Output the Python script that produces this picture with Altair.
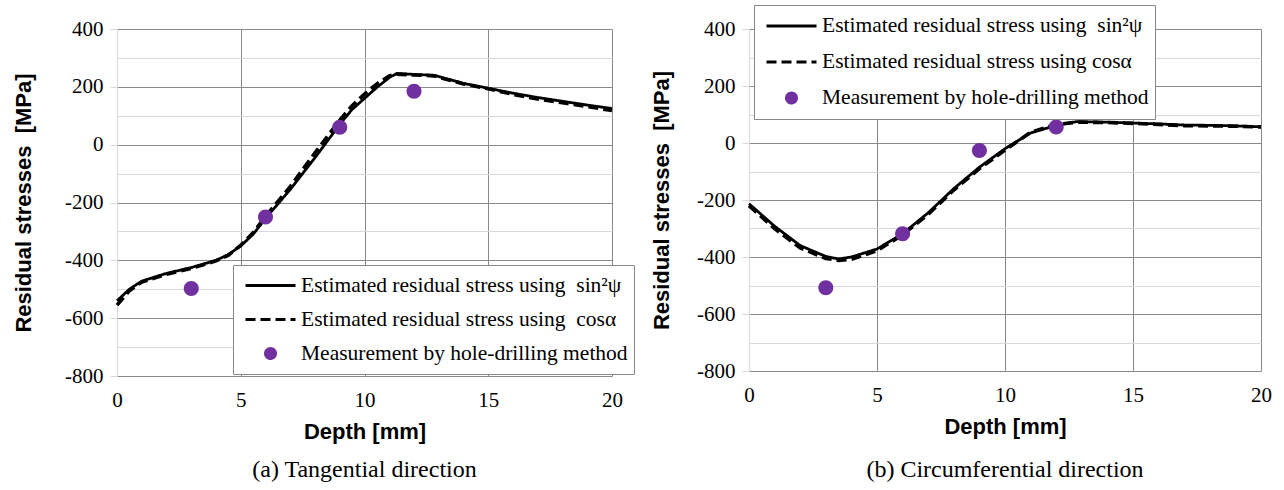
import altair as alt
import pandas as pd

# ---------------- data ----------------
# (a) Tangential direction
depth_a = [0, 0.5, 1, 2, 3, 4, 4.5, 5, 5.5, 6, 7, 8, 9, 9.5, 10, 10.5, 11, 11.3, 12, 12.8, 14, 15, 16, 17, 18, 19, 20]
sin_a = [-540, -500, -472, -445, -425, -400, -380, -350, -310, -255, -155, -45, 70, 122, 160, 198, 232, 246, 243, 240, 212, 195, 178, 163, 150, 137, 125]
cos_a = [-555, -505, -475, -448, -428, -402, -382, -348, -305, -248, -145, -28, 85, 135, 175, 210, 238, 244, 241, 238, 210, 193, 174, 158, 145, 132, 118]

# (b) Circumferential direction
depth_b = [0, 1, 2, 3, 3.5, 4, 5, 6, 7, 8, 9, 10, 11, 12, 12.8, 14, 15, 16, 17, 18, 19, 20]
sin_b = [-213, -292, -360, -398, -407, -400, -372, -318, -245, -160, -85, -20, 35, 62, 75, 73, 70, 67, 63, 62, 60, 57]
cos_b = [-220, -300, -368, -405, -412, -408, -378, -322, -250, -165, -90, -25, 38, 65, 73, 72, 69, 65, 61, 60, 59, 56]

# hole-drilling measurements
meas_depth = [3, 6, 9, 12]
meas_a = [-497, -250, 60, 185]
meas_b = [-508, -318, -26, 56]

# ticks
x_ticks = [0, 5, 10, 15, 20]
y_ticks = list(range(-800, 401, 100))

labels_a = ["Estimated residual stress using\u2002sin\u00b2\u03c8",
            "Estimated residual stress using\u2002cos\u03b1",
            "Measurement by hole-drilling method"]
labels_b = ["Estimated residual stress using\u2002sin\u00b2\u03c8",
            "Estimated residual stress using cos\u03b1",
            "Measurement by hole-drilling method"]

# ---------------- styling ----------------
PURPLE = "#7030A0"
MAJOR = "#8a8a8a"
MINOR = "#d9d9d9"
SERIF = "Liberation Serif"
SANS = "Liberation Sans"
LINE_PATH = "M-1,0L1,0"
CIRCLE_PATH = "M0.2,0A0.2,0.2,0,1,1,-0.2,0A0.2,0.2,0,1,1,0.2,0Z"


def panel(depth, s_sin, s_cos, meas, labels, caption, w, h, lx, ly, clip, rowpad, ytpad, capoff):
    df_sin = pd.DataFrame({"depth": depth, "stress": s_sin, "series": labels[0]})
    df_cos = pd.DataFrame({"depth": depth, "stress": s_cos, "series": labels[1]})
    df_pts = pd.DataFrame({"depth": meas_depth, "stress": meas, "series": labels[2]})

    legend = alt.Legend(
        title=None, orient="none", legendX=lx, legendY=ly, direction="vertical",
        symbolSize=2500, symbolStrokeWidth=3, clipHeight=clip, rowPadding=rowpad,
        padding=6, symbolOffset=5, labelOffset=4,
        labelFont=SERIF, labelFontSize=21.5, labelColor="black", labelLimit=600,
        strokeColor="#888888", fillColor="white",
    )

    x = alt.X(
        "depth:Q",
        scale=alt.Scale(domain=[0, 20], nice=False),
        axis=alt.Axis(
            values=x_ticks, format="d", grid=True,
            gridColor={"condition": {"test": "datum.value === 0", "value": MINOR}, "value": MAJOR},
            domain=False, ticks=False, labelPadding=13, labelFlush=False,
            labelFont=SERIF, labelFontSize=21, labelColor="black",
            title="Depth [mm]", titleFont=SANS, titleFontWeight="bold",
            titleFontSize=22, titleColor="black", titlePadding=11,
        ),
    )
    y = alt.Y(
        "stress:Q",
        scale=alt.Scale(domain=[-800, 400], nice=False),
        axis=alt.Axis(
            values=y_ticks,
            labelExpr="datum.value % 200 === 0 ? '' + datum.value : ''",
            gridColor={"condition": {"test": "datum.value % 200 === 0", "value": MAJOR}, "value": MINOR},
            tickColor={"condition": {"test": "datum.value % 200 === 0", "value": MINOR}, "value": "transparent"},
            tickSize=7, labelPadding=7, labelFlush=False, labelOverlap=False,
            domainColor=MINOR,
            labelFont=SERIF, labelFontSize=21, labelColor="black",
            title="Residual stresses\u00a0 [MPa]", titleFont=SANS, titleFontWeight="bold",
            titleFontSize=22, titleColor="black", titlePadding=ytpad,
        ),
    )
    color = alt.Color("series:N", scale=alt.Scale(domain=labels, range=["black", "black", PURPLE]), legend=legend)
    dash = alt.StrokeDash("series:N", scale=alt.Scale(domain=labels, range=[[1, 0], [10, 5], [1, 0]]), legend=legend)
    shape = alt.Shape("series:N", scale=alt.Scale(domain=labels, range=[LINE_PATH, LINE_PATH, CIRCLE_PATH]), legend=legend)

    l1 = alt.Chart(df_sin).mark_line(strokeWidth=2.8).encode(x=x, y=y, color=color, strokeDash=dash)
    l2 = alt.Chart(df_cos).mark_line(strokeWidth=3.6).encode(x=x, y=y, color=color, strokeDash=dash)
    pts = alt.Chart(df_pts).mark_point(filled=True, opacity=1, size=5625).encode(
        x=x, y=y, color=color, shape=shape)

    return alt.layer(l1, l2, pts).properties(
        width=w, height=h,
        title=alt.TitleParams(text=caption, orient="bottom", frame="group", anchor="middle",
                              font=SERIF, fontSize=24, fontWeight="normal", color="black", offset=capoff),
    )


left = panel(depth_a, sin_a, cos_a, meas_a, labels_a, "(a) Tangential direction",
             495, 347, 116, 236, 29, 5, 29, 16)
right = panel(depth_b, sin_b, cos_b, meas_b, labels_b, "(b) Circumferential direction",
              512, 342, 5, -24, 30, 6, 23, 21)

chart = (
    alt.hconcat(left, right, spacing=137, bounds="flush")
    .resolve_scale(color="independent", strokeDash="independent", shape="independent")
    .resolve_legend(color="independent", strokeDash="independent", shape="independent")
    .configure_view(strokeWidth=0)
    .properties(padding={"left": 12, "top": 4, "right": 5, "bottom": 5})
)

chart.save("out.html", embed_options={"renderer": "svg", "actions": False})
